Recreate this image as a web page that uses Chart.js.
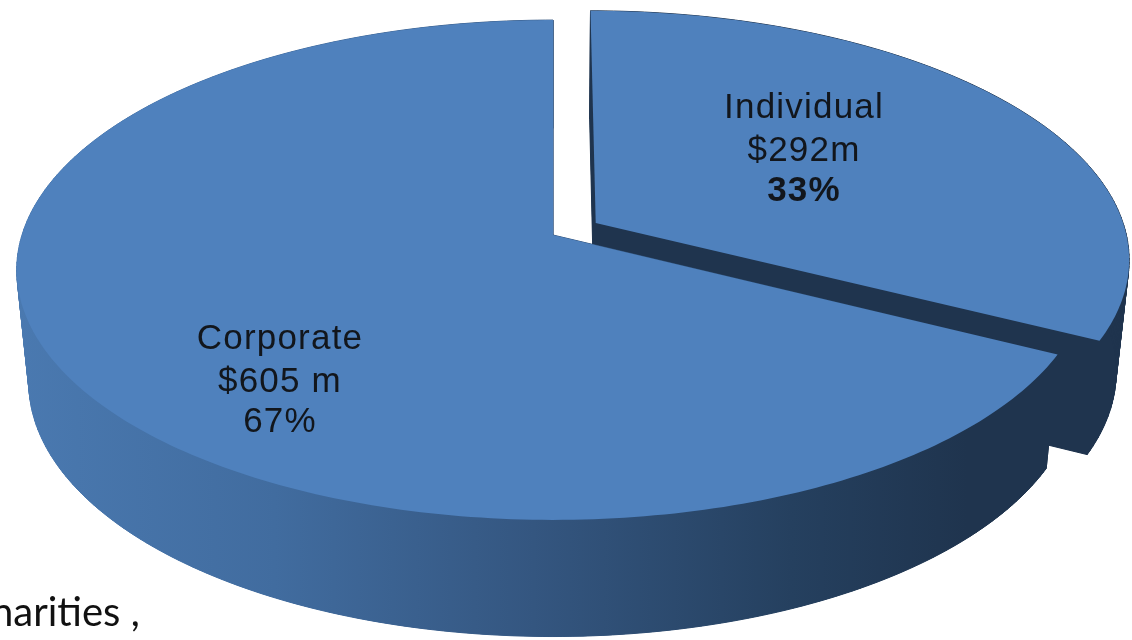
<!DOCTYPE html>
<html>
<head>
<meta charset="utf-8">
<title>Funding by source</title>
<script src="https://cdn.jsdelivr.net/npm/chart.js@4/dist/chart.umd.min.js"></script>
<style>
    html, body { margin: 0; padding: 0; background: #fff; overflow: hidden; }
    #stage { position: relative; width: 1132px; height: 640px; overflow: hidden; }
    #pie { display: block; }
    #note {
        position: absolute; left: -9px; top: 587px;
        font: 40px Lato, "Open Sans", sans-serif; color: #111; white-space: pre;
    }
</style>
</head>
<body>
<div id="stage">
    <canvas id="pie" width="1132" height="640"></canvas>
    <div id="note">harities ,</div>
</div>
<script>
const categories = ['Individual', 'Corporate'];
const amounts = [292, 605];
const amountLabels = ['$292m', '$605 m'];
const shareLabels = ['33%', '67%'];

const TOP_COLOR = '#4f81bd';
const DARK_SIDE = '#1f344e';
const SIDE_STOPS = [
    [0.00, '#4a79b0'],
    [0.25, '#416c9f'],
    [0.50, '#345680'],
    [0.75, '#25405f'],
    [0.92, '#1f344e'],
    [1.00, '#1f344e'],
];

// Tilted view of the pie plane: far edge shrinks, near edge grows.
const view = { cx: 553, cy: 235, rx: 531, ry: 245, persp: 0.14, drop: 112, baseRx: 519, baseRy: 249 };

function projectTop(u, v) {
    const w = 1 + view.persp * v;
    return [view.cx + view.rx * u / w, view.cy - view.ry * v / w];
}

function projectBase(u, v) {
    const w = 1 + view.persp * v;
    return [view.cx + view.baseRx * u / w, view.cy + view.drop - view.baseRy * v / w];
}

// Outline of one slice in unit-radius plane coordinates, taken from the arc element.
function sliceOutline(arc) {
    const mid = (arc.startAngle + arc.endAngle) / 2;
    const shift = (arc.options.offset || 0) / arc.outerRadius;
    const ox = Math.cos(mid) * shift;
    const oy = -Math.sin(mid) * shift;
    const pts = [[ox, oy]];
    const steps = Math.ceil((arc.endAngle - arc.startAngle) * 60);
    for (let i = 0; i <= steps; i++) {
        const a = arc.startAngle + (arc.endAngle - arc.startAngle) * i / steps;
        pts.push([ox + Math.cos(a), oy - Math.sin(a)]);
    }
    return pts;
}

function tracePath(ctx, pts) {
    ctx.beginPath();
    pts.forEach((p, i) => (i ? ctx.lineTo(p[0], p[1]) : ctx.moveTo(p[0], p[1])));
    ctx.closePath();
}

function drawWall(ctx, outline, paint) {
    ctx.fillStyle = paint;
    ctx.strokeStyle = paint;
    ctx.lineWidth = 1;
    for (let i = 0; i < outline.length; i++) {
        const a = outline[i];
        const b = outline[(i + 1) % outline.length];
        tracePath(ctx, [projectTop(a[0], a[1]), projectTop(b[0], b[1]), projectBase(b[0], b[1]), projectBase(a[0], a[1])]);
        ctx.fill();
        ctx.stroke();
    }
    tracePath(ctx, outline.map((p) => projectBase(p[0], p[1])));
    ctx.fill();
}

function drawLabelBlock(ctx, x, baselines, lines, fonts) {
    ctx.textAlign = 'center';
    ctx.textBaseline = 'alphabetic';
    ctx.fillStyle = '#12161c';
    ctx.letterSpacing = '1.2px';
    lines.forEach((text, i) => {
        ctx.font = fonts[i];
        ctx.fillText(text, x, baselines[i]);
    });
    ctx.letterSpacing = '0px';
}

const pie3d = {
    id: 'pie3d',
    beforeDatasetsDraw(chart) {
        const ctx = chart.ctx;
        const arcs = chart.getDatasetMeta(0).data;
        const sideGrad = ctx.createLinearGradient(17, 0, 1050, 0);
        SIDE_STOPS.forEach(([at, color]) => sideGrad.addColorStop(at, color));

        ctx.save();
        // the pulled-out slice sits behind the big one
        arcs.forEach((arc, i) => {
            const outline = sliceOutline(arc);
            drawWall(ctx, outline, i === 0 ? DARK_SIDE : sideGrad);
            tracePath(ctx, outline.map((p) => projectTop(p[0], p[1])));
            ctx.fillStyle = arc.options.backgroundColor;
            ctx.fill();
        });

        const regular = '35px "Liberation Sans", Arial, sans-serif';
        const bold = 'bold 35px "Liberation Sans", Arial, sans-serif';
        drawLabelBlock(ctx, 804, [118, 161, 201],
            [categories[0], amountLabels[0], shareLabels[0]], [regular, regular, bold]);
        drawLabelBlock(ctx, 280, [349, 392, 432],
            [categories[1], amountLabels[1], shareLabels[1]], [regular, regular, regular]);
        ctx.restore();
        return false;
    },
};

new Chart(document.getElementById('pie'), {
    type: 'pie',
    data: {
        labels: categories,
        datasets: [{
            data: amounts,
            backgroundColor: TOP_COLOR,
            borderWidth: 0,
            offset: [29, 0],
        }],
    },
    options: {
        responsive: false,
        animation: false,
        plugins: { legend: { display: false }, tooltip: { enabled: false } },
    },
    plugins: [pie3d],
});
</script>
</body>
</html>
